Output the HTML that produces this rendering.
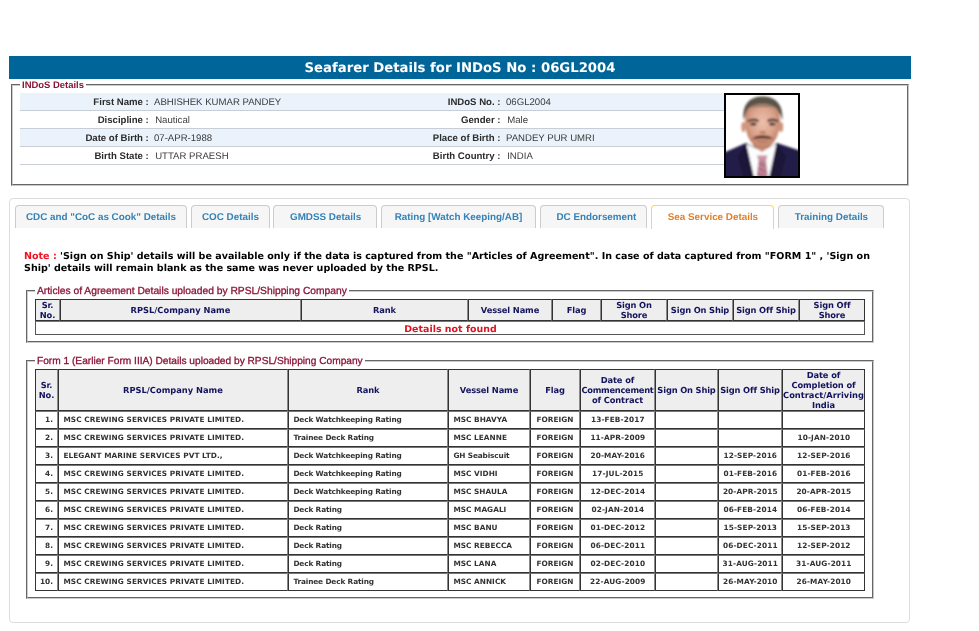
<!DOCTYPE html><html><head><meta charset="utf-8"><title>Seafarer Details</title><style>
html,body{margin:0;padding:0;background:#fff;}
body{text-rendering:geometricPrecision;width:979px;height:631px;position:relative;overflow:hidden;font-family:"Liberation Sans",Arial,sans-serif;}
.abs{position:absolute;}
.vb{font-family:"DejaVu Sans",Verdana,sans-serif;font-weight:bold;text-rendering:geometricPrecision;}
#bar{left:9px;top:56px;width:902px;height:23px;background:#006699;color:#fff;text-align:center;font-size:13.24px;line-height:25px;}
.fs{box-sizing:border-box;border:1px solid;border-color:#666 #c8c8c8 #c8c8c8 #666;}
.fs:after{content:'';position:absolute;left:0;top:0;right:0;bottom:0;border:1px solid;border-color:#ccc #666 #666 #ccc;}
.lg{background:#fff;color:#8b1538;white-space:nowrap;line-height:12px;padding:0 2px;}
.irow{left:20px;width:704px;height:17px;border-bottom:1px solid #c9ced6;font-size:9.6px;line-height:19px;color:#333;white-space:nowrap;}
.irow.b{background:#eaf2fb;}
.irow b{position:absolute;text-align:right;font-weight:bold;color:#2c2c2c;}
.irow span{position:absolute;color:#3c3c3c;}
#tabs{left:9px;top:198px;width:901px;height:425px;border:1px solid #ddd;border-radius:4px;box-sizing:border-box;}
.tab{top:205px;height:23px;box-sizing:border-box;border:1px solid #ccc;border-bottom:0;border-radius:4px 4px 0 0;background:#f6f6f6;color:#3482b6;font-weight:bold;font-size:9.85px;line-height:24px;text-align:left;white-space:nowrap;}
.tab.act{border-color:#f8d85a;background:#fff;color:#e2802a;height:24px;}
table{border-collapse:separate;border-spacing:0;table-layout:fixed;position:absolute;}
td,th{border:1px solid #333;border-top-color:#767676;border-right-color:#8a8a8a;padding:0;box-sizing:border-box;overflow:hidden;white-space:nowrap;}
th{border-top-color:#333;background:#eee;color:#14145e;font-size:8.3px;line-height:10px;text-rendering:geometricPrecision;text-align:center;font-family:"DejaVu Sans",Verdana,sans-serif;font-weight:bold;white-space:normal;}
td{color:#333;font-size:7.35px;letter-spacing:0.03px;text-rendering:geometricPrecision;font-family:"DejaVu Sans",Verdana,sans-serif;font-weight:bold;line-height:16px;}
th{letter-spacing:-0.12px;overflow:visible;}
th .n{letter-spacing:-0.15px;}
th .z{letter-spacing:0;}
th .k{letter-spacing:-0.28px;}
td:last-child,th:last-child{border-right-color:#333;}
td.l{text-align:left;padding-left:4.4px;}
td.m{letter-spacing:-0.13px;}
td.w{letter-spacing:0.08px;}
td.d{letter-spacing:0.12px;padding-left:0.6px;}
td.c{text-align:center;}
td.r{text-align:right;padding-right:4px;}
</style></head><body>
<div id="bar" class="abs vb">Seafarer Details for INDoS No : 06GL2004</div>
<div class="abs fs" style="left:11px;top:84px;width:898px;height:102px;"></div>
<div class="abs lg" style="left:20px;top:80px;font-size:9.46px;font-weight:bold;">INDoS Details</div>
<div class="abs irow b" style="top:93px;"><b style="right:575.2px;">First Name :</b><span style="left:134px;">ABHISHEK KUMAR PANDEY</span><b style="right:223.5px;">INDoS No. :</b><span style="left:486px;">06GL2004</span></div>
<div class="abs irow " style="top:111px;"><b style="right:575.2px;">Discipline :</b><span style="left:135.2px;">Nautical</span><b style="right:223.5px;">Gender :</b><span style="left:487.2px;">Male</span></div>
<div class="abs irow b" style="top:129px;"><b style="right:575.2px;">Date of Birth :</b><span style="left:134px;">07-APR-1988</span><b style="right:223.5px;">Place of Birth :</b><span style="left:486px;">PANDEY PUR UMRI</span></div>
<div class="abs irow " style="top:147px;"><b style="right:575.2px;">Birth State :</b><span style="left:135.2px;">UTTAR PRAESH</span><b style="right:223.5px;">Birth Country :</b><span style="left:487.2px;">INDIA</span></div>
<div class="abs" id="photo" style="left:724px;top:93px;width:76px;height:85px;background:#000;"><svg width="72" height="81" viewBox="0 0 72 81" style="position:absolute;left:2px;top:2px;display:block;">
<defs><filter id="bl" x="-10%" y="-10%" width="120%" height="120%"><feGaussianBlur stdDeviation="0.85"/></filter><radialGradient id="fg" cx="0.5" cy="0.42" r="0.6"><stop offset="0" stop-color="#ecc0ae"/><stop offset="0.55" stop-color="#dda48d"/><stop offset="1" stop-color="#b97a62"/></radialGradient>
<clipPath id="cp"><rect x="0" y="0" width="72" height="81"/></clipPath></defs>
<rect width="72" height="81" fill="#fff"/>
<g clip-path="url(#cp)"><g filter="url(#bl)">
<!-- suit -->
<path d="M-3 58 L20 48 L28 52 L44 52 L51 48 L75 56 L75 85 L-3 85 Z" fill="#231c48"/>
<!-- shirt -->
<path d="M20 49 L36 56 L50.4 49 L43 83 L28 83 Z" fill="#fdfdfd"/>
<!-- lapels shading -->
<path d="M20 48 L28 83 L18 83 L12 62 Z" fill="#1b1838"/>
<path d="M51 48 L44 83 L54 83 L60 62 Z" fill="#1b1838"/>
<!-- tie -->
<path d="M31 60.5 L41.4 60.5 L40 65.5 L42.2 83 L30.4 83 L32.6 65.5 Z" fill="#bd8799"/>
<path d="M32 61 L40.4 61 L39.5 65 L33 65 Z" fill="#c995a5"/><path d="M33 68 L39 71 M32.5 73 L39.6 77 M32 78.5 L40 82" stroke="#a65068" stroke-width="1.2" fill="none"/>
<!-- neck -->
<path d="M27 42 L45 42 L45 51 L36 57 L27 51 Z" fill="#c98e74"/>
<!-- ears -->
<ellipse cx="17.5" cy="32" rx="2.2" ry="5" fill="#cf957c"/>
<ellipse cx="55" cy="32" rx="2.2" ry="5" fill="#cf957c"/>
<!-- hair -->
<path d="M17.6 26 C15.5 8 25 1.5 36.6 1.5 C48 1.5 58 8 56.2 26 C55 18 50 11 36.6 11 C23 11 19 18 17.6 26 Z" fill="#5a5347"/>
<!-- face -->
<path d="M19 24 C19 12 27 9 36.5 9 C46 9 54 12 54 24 C54 36 51 45 45 50 C41 54 32 54 28 50 C22 45 19 36 19 24 Z" fill="url(#fg)"/>
<path d="M22 13 C28 8.5 45 8.5 51 13 C46 11.5 27 11.5 22 13 Z" fill="#8a7a68"/>
<!-- cheeks / lower face shading -->
<ellipse cx="36.5" cy="46" rx="8" ry="5" fill="#c98d74" opacity="0.8"/>
<!-- eyebrows -->
<path d="M21.6 25.6 C25 23.2 30 23.4 32.8 25.2 L32.4 27 C29 25.8 25 25.8 22 27.2 Z" fill="#3a2c25"/>
<path d="M41.2 25.2 C44 23.4 49 23.2 52.5 25.6 L52 27.2 C49 25.8 45 25.8 41.6 27 Z" fill="#3a2c25"/>
<!-- eyes -->
<ellipse cx="27.3" cy="29" rx="3.2" ry="1.5" fill="#46302a"/>
<ellipse cx="46.2" cy="29" rx="3.2" ry="1.5" fill="#46302a"/>
<!-- nose -->
<path d="M33 37.5 C35 39 38.5 39 40.5 37.5 L39 36 L34.5 36 Z" fill="#b9775f"/>
<!-- mustache -->
<path d="M27.5 43.5 C30 39.8 43 39.8 45.5 43.5 C42 42.6 31 42.6 27.5 43.5 Z" fill="#5b3a2e" stroke="#5b3a2e" stroke-width="1.2"/>
<!-- mouth -->
<path d="M31 46 C34 47.2 39 47.2 42 46" stroke="#a8604f" stroke-width="1" fill="none"/>
</g></g></svg></div>
<div id="tabs" class="abs"></div>
<div class="abs tab" style="left:15px;width:172px;padding-left:10px;">CDC and &quot;CoC as Cook&quot; Details</div>
<div class="abs tab" style="left:191px;width:79px;padding-left:10px;">COC Details</div>
<div class="abs tab" style="left:273px;width:104px;padding-left:16px;">GMDSS Details</div>
<div class="abs tab" style="left:381px;width:155px;padding-left:12.7px;">Rating [Watch Keeping/AB]</div>
<div class="abs tab" style="left:540px;width:107px;padding-left:15.5px;">DC Endorsement</div>
<div class="abs tab act" style="left:651px;width:123px;padding-left:15.8px;">Sea Service Details</div>
<div class="abs tab" style="left:778px;width:106px;padding-left:15.8px;">Training Details</div>
<div class="abs vb" style="left:24px;top:251px;width:870px;font-size:9.56px;line-height:12px;color:#000;"><span style="color:#ee1122">Note :</span> 'Sign on Ship' details will be available only if the data is captured from the "Articles of Agreement". In case of data captured from "FORM 1" , 'Sign on<br>Ship' details will remain blank as the same was never uploaded by the RPSL.</div>
<div class="abs fs" style="left:26px;top:290px;width:848px;height:53px;"></div>
<div class="abs lg" style="left:35px;top:286px;font-size:10.27px;-webkit-text-stroke:0.3px #8b1538;">Articles of Agreement Details uploaded by RPSL/Shipping Company</div>
<table style="left:35px;top:299px;width:830px;"><colgroup><col style="width:25px"><col style="width:241px"><col style="width:167px"><col style="width:84px"><col style="width:49px"><col style="width:66px"><col style="width:66px"><col style="width:66px"><col style="width:66px"></colgroup>
<tr style="height:22px;"><th>Sr.<br>No.</th><th><span class=z>RPSL/Company Name</span></th><th>Rank</th><th>Vessel Name</th><th>Flag</th><th>Sign On<br>Shore</th><th><span class=n>Sign On Ship</span></th><th><span class=n>Sign Off Ship</span></th><th>Sign Off<br>Shore</th></tr>
<tr style="height:14px;"><td colspan="9" class="c" style="color:#dc1420;font-size:9.41px;line-height:12px;border-color:#767676 #555 #555 #555;"><span style="position:relative;top:2px;left:0.5px;">Details not found</span></td></tr></table>
<div class="abs fs" style="left:26px;top:360px;width:848px;height:239px;"></div>
<div class="abs lg" style="left:35px;top:356px;font-size:10.17px;-webkit-text-stroke:0.3px #8b1538;">Form 1 (Earlier Form IIIA) Details uploaded by RPSL/Shipping Company</div>
<table style="left:35px;top:369px;width:830px;"><colgroup><col style="width:23px"><col style="width:230px"><col style="width:160px"><col style="width:82px"><col style="width:50px"><col style="width:75px"><col style="width:63px"><col style="width:64px"><col style="width:83px"></colgroup>
<tr style="height:42px;"><th>Sr.<br>No.</th><th><span class=z>RPSL/Company Name</span></th><th>Rank</th><th>Vessel Name</th><th>Flag</th><th>Date of<br><span class=k>Commencement</span><br>of Contract</th><th><span class=n>Sign On Ship</span></th><th><span class=n>Sign Off Ship</span></th><th>Date of<br>Completion of<br><span class=z>Contract/Arriving</span><br>India</th></tr>
<tr style="height:18px;"><td class="r">1.</td><td class="l w">MSC CREWING SERVICES PRIVATE LIMITED.</td><td class="l m">Deck Watchkeeping Rating</td><td class="l">MSC BHAVYA</td><td class="c">FOREIGN</td><td class="c d">13-FEB-2017</td><td class="c"></td><td class="c d"></td><td class="c d"></td></tr>
<tr style="height:18px;"><td class="r">2.</td><td class="l w">MSC CREWING SERVICES PRIVATE LIMITED.</td><td class="l m">Trainee Deck Rating</td><td class="l">MSC LEANNE</td><td class="c">FOREIGN</td><td class="c d">11-APR-2009</td><td class="c"></td><td class="c d"></td><td class="c d">10-JAN-2010</td></tr>
<tr style="height:18px;"><td class="r">3.</td><td class="l w">ELEGANT MARINE SERVICES PVT LTD.,</td><td class="l m">Deck Watchkeeping Rating</td><td class="l m">GH Seabiscuit</td><td class="c">FOREIGN</td><td class="c d">20-MAY-2016</td><td class="c"></td><td class="c d">12-SEP-2016</td><td class="c d">12-SEP-2016</td></tr>
<tr style="height:18px;"><td class="r">4.</td><td class="l w">MSC CREWING SERVICES PRIVATE LIMITED.</td><td class="l m">Deck Watchkeeping Rating</td><td class="l">MSC VIDHI</td><td class="c">FOREIGN</td><td class="c d">17-JUL-2015</td><td class="c"></td><td class="c d">01-FEB-2016</td><td class="c d">01-FEB-2016</td></tr>
<tr style="height:18px;"><td class="r">5.</td><td class="l w">MSC CREWING SERVICES PRIVATE LIMITED.</td><td class="l m">Deck Watchkeeping Rating</td><td class="l">MSC SHAULA</td><td class="c">FOREIGN</td><td class="c d">12-DEC-2014</td><td class="c"></td><td class="c d">20-APR-2015</td><td class="c d">20-APR-2015</td></tr>
<tr style="height:18px;"><td class="r">6.</td><td class="l w">MSC CREWING SERVICES PRIVATE LIMITED.</td><td class="l m">Deck Rating</td><td class="l">MSC MAGALI</td><td class="c">FOREIGN</td><td class="c d">02-JAN-2014</td><td class="c"></td><td class="c d">06-FEB-2014</td><td class="c d">06-FEB-2014</td></tr>
<tr style="height:18px;"><td class="r">7.</td><td class="l w">MSC CREWING SERVICES PRIVATE LIMITED.</td><td class="l m">Deck Rating</td><td class="l">MSC BANU</td><td class="c">FOREIGN</td><td class="c d">01-DEC-2012</td><td class="c"></td><td class="c d">15-SEP-2013</td><td class="c d">15-SEP-2013</td></tr>
<tr style="height:18px;"><td class="r">8.</td><td class="l w">MSC CREWING SERVICES PRIVATE LIMITED.</td><td class="l m">Deck Rating</td><td class="l">MSC REBECCA</td><td class="c">FOREIGN</td><td class="c d">06-DEC-2011</td><td class="c"></td><td class="c d">06-DEC-2011</td><td class="c d">12-SEP-2012</td></tr>
<tr style="height:18px;"><td class="r">9.</td><td class="l w">MSC CREWING SERVICES PRIVATE LIMITED.</td><td class="l m">Deck Rating</td><td class="l">MSC LANA</td><td class="c">FOREIGN</td><td class="c d">02-DEC-2010</td><td class="c"></td><td class="c d">31-AUG-2011</td><td class="c d">31-AUG-2011</td></tr>
<tr style="height:18px;"><td class="r">10.</td><td class="l w">MSC CREWING SERVICES PRIVATE LIMITED.</td><td class="l m">Trainee Deck Rating</td><td class="l">MSC ANNICK</td><td class="c">FOREIGN</td><td class="c d">22-AUG-2009</td><td class="c"></td><td class="c d">26-MAY-2010</td><td class="c d">26-MAY-2010</td></tr>
</table>
</body></html>
